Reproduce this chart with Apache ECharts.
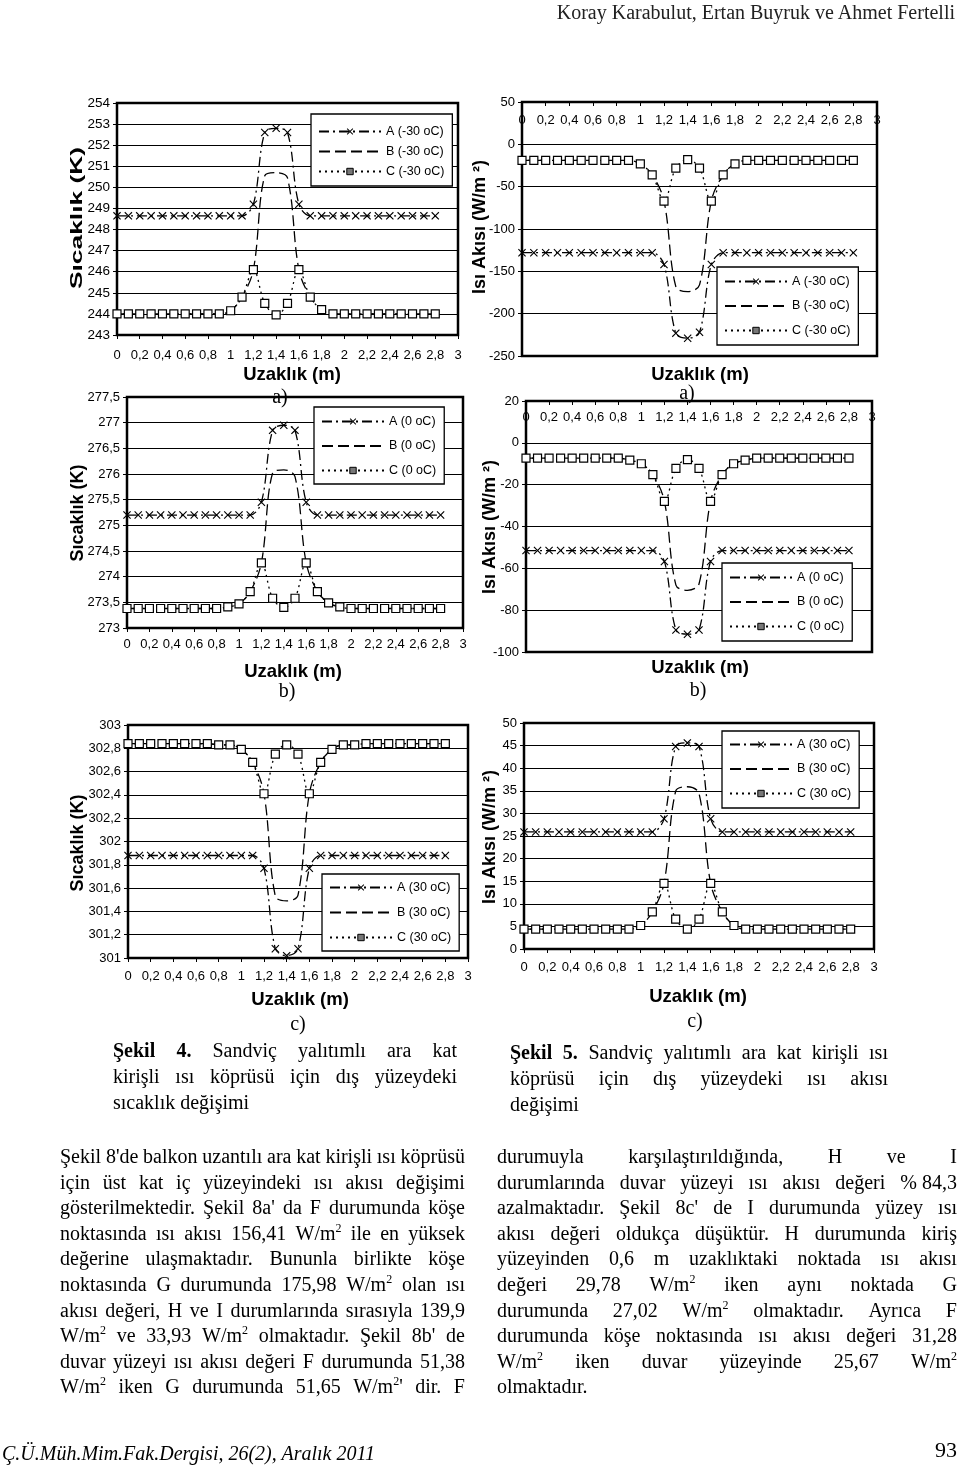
<!DOCTYPE html>
<html><head><meta charset="utf-8">
<script src="https://cdn.jsdelivr.net/npm/echarts@6/dist/echarts.min.js"></script>
<style>
html,body{margin:0;padding:0;background:#fff;}
#page{position:relative;width:960px;height:1470px;overflow:hidden;background:#fff;}
#chart{position:absolute;left:0;top:0;width:960px;height:1470px;}
.ln{position:absolute;height:26px;line-height:26px;font-family:"Liberation Serif","Times New Roman",serif;font-size:20px;color:#000;white-space:nowrap;}
.jf{display:flex;justify-content:space-between;}
sup{font-size:12px;line-height:0;vertical-align:8px;}
</style></head>
<body><div id="page"><div id="chart"></div></div>
<script>
// ---------- DATA ----------
const xVals = [0,0.1,0.2,0.3,0.4,0.5,0.6,0.7,0.8,0.9,1.0,1.1,1.2,1.3,1.4,1.5,1.6,1.7,1.8,1.9,2.0,2.1,2.2,2.3,2.4,2.5,2.6,2.7,2.8];

// Şekil 4 a) sıcaklık (-30 oC)
const s4a_A = [248.65,248.65,248.65,248.65,248.65,248.65,248.65,248.65,248.65,248.65,248.65,248.65,249.2,252.6,252.8,252.6,249.2,248.65,248.65,248.65,248.65,248.65,248.65,248.65,248.65,248.65,248.65,248.65,248.65];
const s4a_B = [244.0,244.0,244.0,244.0,244.0,244.0,244.0,244.0,244.0,244.0,244.15,244.8,246.1,250.55,250.7,250.45,246.1,244.8,244.2,244.0,244.0,244.0,244.0,244.0,244.0,244.0,244.0,244.0,244.0];
const s4a_C = [244.0,244.0,244.0,244.0,244.0,244.0,244.0,244.0,244.0,244.0,244.15,244.8,246.1,244.5,243.95,244.5,246.1,244.8,244.2,244.0,244.0,244.0,244.0,244.0,244.0,244.0,244.0,244.0,244.0];
// Şekil 4 b) (0 oC)
const s4b_A = [275.2,275.2,275.2,275.2,275.2,275.2,275.2,275.2,275.2,275.2,275.2,275.2,275.45,276.85,276.95,276.85,275.45,275.2,275.2,275.2,275.2,275.2,275.2,275.2,275.2,275.2,275.2,275.2,275.2];
const s4b_B = [273.38,273.38,273.38,273.38,273.38,273.38,273.38,273.38,273.38,273.41,273.47,273.71,274.27,276.02,276.08,275.95,274.27,273.71,273.49,273.41,273.38,273.38,273.38,273.38,273.38,273.38,273.38,273.38,273.38];
const s4b_C = [273.38,273.38,273.38,273.38,273.38,273.38,273.38,273.38,273.38,273.41,273.47,273.71,274.27,273.58,273.4,273.58,274.27,273.71,273.49,273.41,273.38,273.38,273.38,273.38,273.38,273.38,273.38,273.38,273.38];
// Şekil 4 c) (30 oC)
const s4c_A = [301.88,301.88,301.88,301.88,301.88,301.88,301.88,301.88,301.88,301.88,301.88,301.88,301.77,301.08,301.02,301.08,301.77,301.88,301.88,301.88,301.88,301.88,301.88,301.88,301.88,301.88,301.88,301.88,301.88];
const s4c_B = [302.84,302.84,302.84,302.84,302.84,302.84,302.84,302.84,302.83,302.83,302.79,302.68,302.41,301.53,301.49,301.54,302.41,302.68,302.79,302.83,302.83,302.84,302.84,302.84,302.84,302.84,302.84,302.84,302.84];
const s4c_C = [302.84,302.84,302.84,302.84,302.84,302.84,302.84,302.84,302.83,302.83,302.79,302.68,302.41,302.75,302.83,302.75,302.41,302.68,302.79,302.83,302.83,302.84,302.84,302.84,302.84,302.84,302.84,302.84,302.84];
// Şekil 5 a) ısı akısı (-30 oC)
const s5a_A = [-128,-128,-128,-128,-128,-128,-128,-128,-128,-128,-128,-128,-142,-223,-229,-222,-142,-128,-128,-128,-128,-128,-128,-128,-128,-128,-128,-128,-128];
const s5a_B = [-19,-19,-19,-19,-19,-19,-19,-19,-19,-19,-23,-36,-67,-168,-174,-166,-67,-36,-23,-19,-19,-19,-19,-19,-19,-19,-19,-19,-19];
const s5a_C = [-19,-19,-19,-19,-19,-19,-19,-19,-19,-19,-23,-36,-67,-28,-18,-28,-67,-36,-23,-19,-19,-19,-19,-19,-19,-19,-19,-19,-19];
// Şekil 5 b) (0 oC)
const s5b_A = [-51.5,-51.5,-51.5,-51.5,-51.5,-51.5,-51.5,-51.5,-51.5,-51.5,-51.5,-51.5,-56.7,-89.5,-91.5,-89.5,-56.7,-51.5,-51.5,-51.5,-51.5,-51.5,-51.5,-51.5,-51.5,-51.5,-51.5,-51.5,-51.5];
const s5b_B = [-7.3,-7.3,-7.3,-7.3,-7.3,-7.3,-7.3,-7.3,-7.3,-8.3,-10,-15.2,-28,-68,-70.5,-67.5,-28,-15.2,-10,-8.3,-7.3,-7.3,-7.3,-7.3,-7.3,-7.3,-7.3,-7.3,-7.3];
const s5b_C = [-7.3,-7.3,-7.3,-7.3,-7.3,-7.3,-7.3,-7.3,-7.3,-8.3,-10,-15.2,-28,-12.2,-8,-12.2,-28,-15.2,-10,-8.3,-7.3,-7.3,-7.3,-7.3,-7.3,-7.3,-7.3,-7.3,-7.3];
// Şekil 5 c) (30 oC)
const s5c_A = [25.9,25.9,25.9,25.9,25.9,25.9,25.9,25.9,25.9,25.9,25.9,25.9,28.8,44.8,45.6,44.8,28.8,25.9,25.9,25.9,25.9,25.9,25.9,25.9,25.9,25.9,25.9,25.9,25.9];
const s5c_B = [4.4,4.4,4.4,4.4,4.4,4.4,4.4,4.4,4.4,4.4,5.2,8.2,14.5,34.9,35.9,34.4,14.5,8.2,5.2,4.4,4.4,4.4,4.4,4.4,4.4,4.4,4.4,4.4,4.4];
const s5c_C = [4.4,4.4,4.4,4.4,4.4,4.4,4.4,4.4,4.4,4.4,5.2,8.2,14.5,6.6,4.4,6.6,14.5,8.2,5.2,4.4,4.4,4.4,4.4,4.4,4.4,4.4,4.4,4.4,4.4];

const names30m = ['A (-30 oC)','B (-30 oC)','C (-30 oC)'];
const names0 = ['A (0 oC)','B (0 oC)','C (0 oC)'];
const names30 = ['A (30 oC)','B (30 oC)','C (30 oC)'];

const xTitle = 'Uzaklık (m)';
const yTitleT = 'Sıcaklık (K)';
const yTitleQ = 'Isı Akısı (W/m ²)';

// ---------- TEXT ----------
const headerText = 'Koray Karabulut, Ertan Buyruk ve Ahmet Fertelli';
const footerText = 'Ç.Ü.Müh.Mim.Fak.Dergisi, 26(2), Aralık 2011';
const pageNo = '93';
const cap4 = ['<b>Şekil</b> <b>4.</b> Sandviç yalıtımlı ara kat','kirişli ısı köprüsü için dış yüzeydeki','sıcaklık değişimi'];
const cap5 = ['<b>Şekil</b> <b>5.</b> Sandviç yalıtımlı ara kat kirişli ısı','köprüsü için dış yüzeydeki ısı akısı','değişimi'];
const leftLines = [
 "Şekil 8'de balkon uzantılı ara kat kirişli ısı köprüsü",
 "için üst kat iç yüzeyindeki ısı akısı değişimi",
 "gösterilmektedir. Şekil 8a' da F durumunda köşe",
 "noktasında ısı akısı 156,41 W/m<sup>2</sup> ile en yüksek",
 "değerine ulaşmaktadır. Bununla birlikte köşe",
 "noktasında G durumunda 175,98 W/m<sup>2</sup> olan ısı",
 "akısı değeri, H ve I durumlarında sırasıyla 139,9",
 "W/m<sup>2</sup> ve 33,93 W/m<sup>2</sup> olmaktadır. Şekil 8b' de",
 "duvar yüzeyi ısı akısı değeri F durumunda 51,38",
 "W/m<sup>2</sup> iken G durumunda 51,65 W/m<sup>2</sup>' dir. F"
];
const rightLines = [
 "durumuyla karşılaştırıldığında, H ve I",
 "durumlarında duvar yüzeyi ısı akısı değeri %&nbsp;84,3",
 "azalmaktadır. Şekil 8c' de I durumunda yüzey ısı",
 "akısı değeri oldukça düşüktür. H durumunda kiriş",
 "yüzeyinden 0,6 m uzaklıktaki noktada ısı akısı",
 "değeri 29,78 W/m<sup>2</sup> iken aynı noktada G",
 "durumunda 27,02 W/m<sup>2</sup> olmaktadır. Ayrıca F",
 "durumunda köşe noktasında ısı akısı değeri 31,28",
 "W/m<sup>2</sup> iken duvar yüzeyinde 25,67 W/m<sup>2</sup>",
 "olmaktadır."
];

// ---------- HTML TEXT ----------
const page = document.getElementById('page');
function addLine(html, left, cy, width, justify, extraStyle) {
  const d = document.createElement('div');
  d.className = 'ln' + (justify ? ' jf' : '');
  d.style.left = left + 'px';
  d.style.top = (cy - 15) + 'px';
  if (width) d.style.width = width + 'px';
  if (extraStyle) Object.assign(d.style, extraStyle);
  if (justify) {
    d.innerHTML = html.split(' ').map(w => '<span>' + w + '</span>').join('');
  } else {
    d.innerHTML = html;
  }
  page.appendChild(d);
  return d;
}
addLine(headerText, 0, 14, 955, false, {textAlign:'right', fontSize:'20px', color:'#222'});
cap4.forEach((l, i) => addLine(l, 113, 1052 + i*26, 344, i < 2));
cap5.forEach((l, i) => addLine(l, 510, 1054 + i*26, 378, i < 2));
leftLines.forEach((l, i) => addLine(l, 60, 1158 + i*25.6, 405, true));
rightLines.forEach((l, i) => addLine(l, 497, 1158 + i*25.6, 460, i < rightLines.length - 1));
addLine(footerText, 2, 1455, null, false, {fontStyle:'italic', fontSize:'20px'});
addLine(pageNo, 900, 1452, 57, false, {textAlign:'right', fontSize:'22px'});

// ---------- CHARTS ----------
const FONT = '"Liberation Sans", Arial, sans-serif';
const crossSym = 'path://M0,1L1,0L5,4L9,0L10,1L6,5L10,9L9,10L5,6L1,10L0,9L4,5Z';
const fmt = v => (Math.round(v * 100) / 100).toString().replace('.', ',');

const panels = [
  {grid:{left:117,top:103,width:341,height:232}, y:[243,254,1], xTop:false, xMargin:14, names:names30m, A:s4a_A, B:s4a_B, C:s4a_C,
   legend:{left:311, top:114, padding:[10,8,7,7], gap:5}, yLabel:13.5},
  {grid:{left:127,top:397,width:336,height:231}, y:[273,277.5,0.5], xTop:false, xMargin:10, names:names0, A:s4b_A, B:s4b_B, C:s4b_C,
   legend:{left:314, top:407, padding:[7,8,6,7], gap:9.5}, yLabel:13},
  {grid:{left:128,top:725,width:340,height:233}, y:[301,303,0.2], xTop:false, xMargin:12, names:names30, A:s4c_A, B:s4c_B, C:s4c_C,
   legend:{left:322, top:874, padding:[6,8,6,7], gap:10}, yLabel:13},
  {grid:{left:522,top:102,width:355,height:254}, y:[-250,50,50], xTop:true, xMargin:12, names:names30m, A:s5a_A, B:s5a_B, C:s5a_C,
   legend:{left:717, top:267, padding:[7,8,7,7], gap:9.5}, yLabel:13},
  {grid:{left:526,top:401,width:346,height:251}, y:[-100,20,20], xTop:true, xMargin:10, names:names0, A:s5b_A, B:s5b_B, C:s5b_C,
   legend:{left:722, top:563, padding:[7,8,7,7], gap:9.5}, yLabel:13},
  {grid:{left:524,top:723,width:350,height:226}, y:[0,50,5], xTop:false, xMargin:12, names:names30, A:s5c_A, B:s5c_B, C:s5c_C,
   legend:{left:722, top:731, padding:[6,8,7,7], gap:9.5}, yLabel:13}
];

const grids = [], xAxes = [], yAxes = [], series = [], legends = [];
panels.forEach((p, gi) => {
  grids.push(Object.assign({show:true, borderColor:'#000', borderWidth:2.5, backgroundColor:'transparent', containLabel:false}, p.grid));
  xAxes.push({
    gridIndex: gi, type:'value', min:0, max:3, interval:0.2,
    position: p.xTop ? 'top' : 'bottom',
    axisLine:{show:true, onZero:false, lineStyle:{color:'#000', width:2}},
    axisTick:{show:true, inside: p.xTop, length:4, lineStyle:{color:'#000', width:1}},
    splitLine:{show:false},
    axisLabel:{color:'#000', fontSize:13, fontFamily:FONT, inside:p.xTop, margin:p.xMargin, formatter:fmt, showMinLabel:true, showMaxLabel:true}
  });
  yAxes.push({
    gridIndex: gi, type:'value', min:p.y[0], max:p.y[1], interval:p.y[2],
    axisLine:{show:true, onZero:false, lineStyle:{color:'#000', width:2}},
    axisTick:{show:true, length:4, lineStyle:{color:'#000', width:1}},
    splitLine:{show:true, lineStyle:{color:'#000', width:1.2}},
    axisLabel:{color:'#000', fontSize:p.yLabel, fontFamily:FONT, margin:7, formatter:fmt}
  });
  const mk = arr => xVals.map((x, i) => [x, arr[i]]);
  series.push({
    type:'line', name:p.names[0], xAxisIndex:gi, yAxisIndex:gi, data:mk(p.A), smooth:0.35,
    symbol:crossSym, symbolSize:8, itemStyle:{color:'#000'},
    lineStyle:{color:'#000', width:1.3, type:[10,4,2,4]}, z:4, animation:false
  });
  series.push({
    type:'line', name:p.names[1], xAxisIndex:gi, yAxisIndex:gi, data:mk(p.B), smooth:0.35,
    symbol:'emptyCircle', showSymbol:false, itemStyle:{color:'#000'},
    lineStyle:{color:'#000', width:1.3, type:[11,5]}, z:3, animation:false
  });
  series.push({
    type:'line', name:p.names[2], xAxisIndex:gi, yAxisIndex:gi, data:mk(p.C), smooth:0.35,
    symbol:'rect', symbolSize:8, itemStyle:{color:'#fff', borderColor:'#000', borderWidth:1.2},
    lineStyle:{color:'#000', width:1.3, type:[2,4]}, z:5, animation:false
  });
  legends.push({
    orient:'vertical', left:p.legend.left, top:p.legend.top,
    data:[
      {name:p.names[0]},
      {name:p.names[1], itemStyle:{opacity:0, borderWidth:0}},
      {name:p.names[2], itemStyle:{color:'#777', borderColor:'#000', borderWidth:1}}
    ],
    backgroundColor:'#fff', borderColor:'#000', borderWidth:1.3, borderRadius:0,
    padding:p.legend.padding, itemGap:p.legend.gap, itemWidth:62, itemHeight:8,
    selectedMode:false, z:10,
    textStyle:{fontSize:12.5, color:'#000', fontFamily:FONT, lineHeight:15}
  });
});

const gText = (x, y, text, size, weight, family, extra) => Object.assign({
  type:'text', x:x, y:y, z:20, silent:true,
  style:{text:text, fontSize:size, fontWeight:weight, fontFamily:family, fill:'#000', align:'center', verticalAlign:'middle'}
}, extra || {});
const SERIF = '"Liberation Serif","Times New Roman",serif';
const graphics = [
  gText(292, 375, xTitle, 18.5, 'bold', FONT),
  gText(293, 672, xTitle, 18.5, 'bold', FONT),
  gText(300, 1000, xTitle, 18.5, 'bold', FONT),
  gText(700, 375, xTitle, 18.5, 'bold', FONT),
  gText(700, 668, xTitle, 18.5, 'bold', FONT),
  gText(698, 997, xTitle, 18.5, 'bold', FONT),
  gText(280, 398, 'a)', 20, 'normal', SERIF),
  gText(287, 692, 'b)', 20, 'normal', SERIF),
  gText(298, 1025, 'c)', 20, 'normal', SERIF),
  gText(687, 394, 'a)', 20, 'normal', SERIF),
  gText(698, 691, 'b)', 20, 'normal', SERIF),
  gText(695, 1022, 'c)', 20, 'normal', SERIF),
  gText(77, 218, yTitleT, 17, 'bold', FONT, {rotation:Math.PI/2, scaleX:1.55}),
  gText(78, 513, yTitleT, 18, 'bold', FONT, {rotation:Math.PI/2}),
  gText(78, 843, yTitleT, 18, 'bold', FONT, {rotation:Math.PI/2}),
  gText(480, 227, yTitleQ, 18, 'bold', FONT, {rotation:Math.PI/2}),
  gText(490, 527, yTitleQ, 18, 'bold', FONT, {rotation:Math.PI/2}),
  gText(490, 837, yTitleQ, 18, 'bold', FONT, {rotation:Math.PI/2})
];

const chart = echarts.init(document.getElementById('chart'), null, {renderer:'canvas'});
chart.setOption({
  animation:false,
  backgroundColor:'transparent',
  grid:grids, xAxis:xAxes, yAxis:yAxes, series:series, legend:legends, graphic:graphics
});
</script>
</body></html>
